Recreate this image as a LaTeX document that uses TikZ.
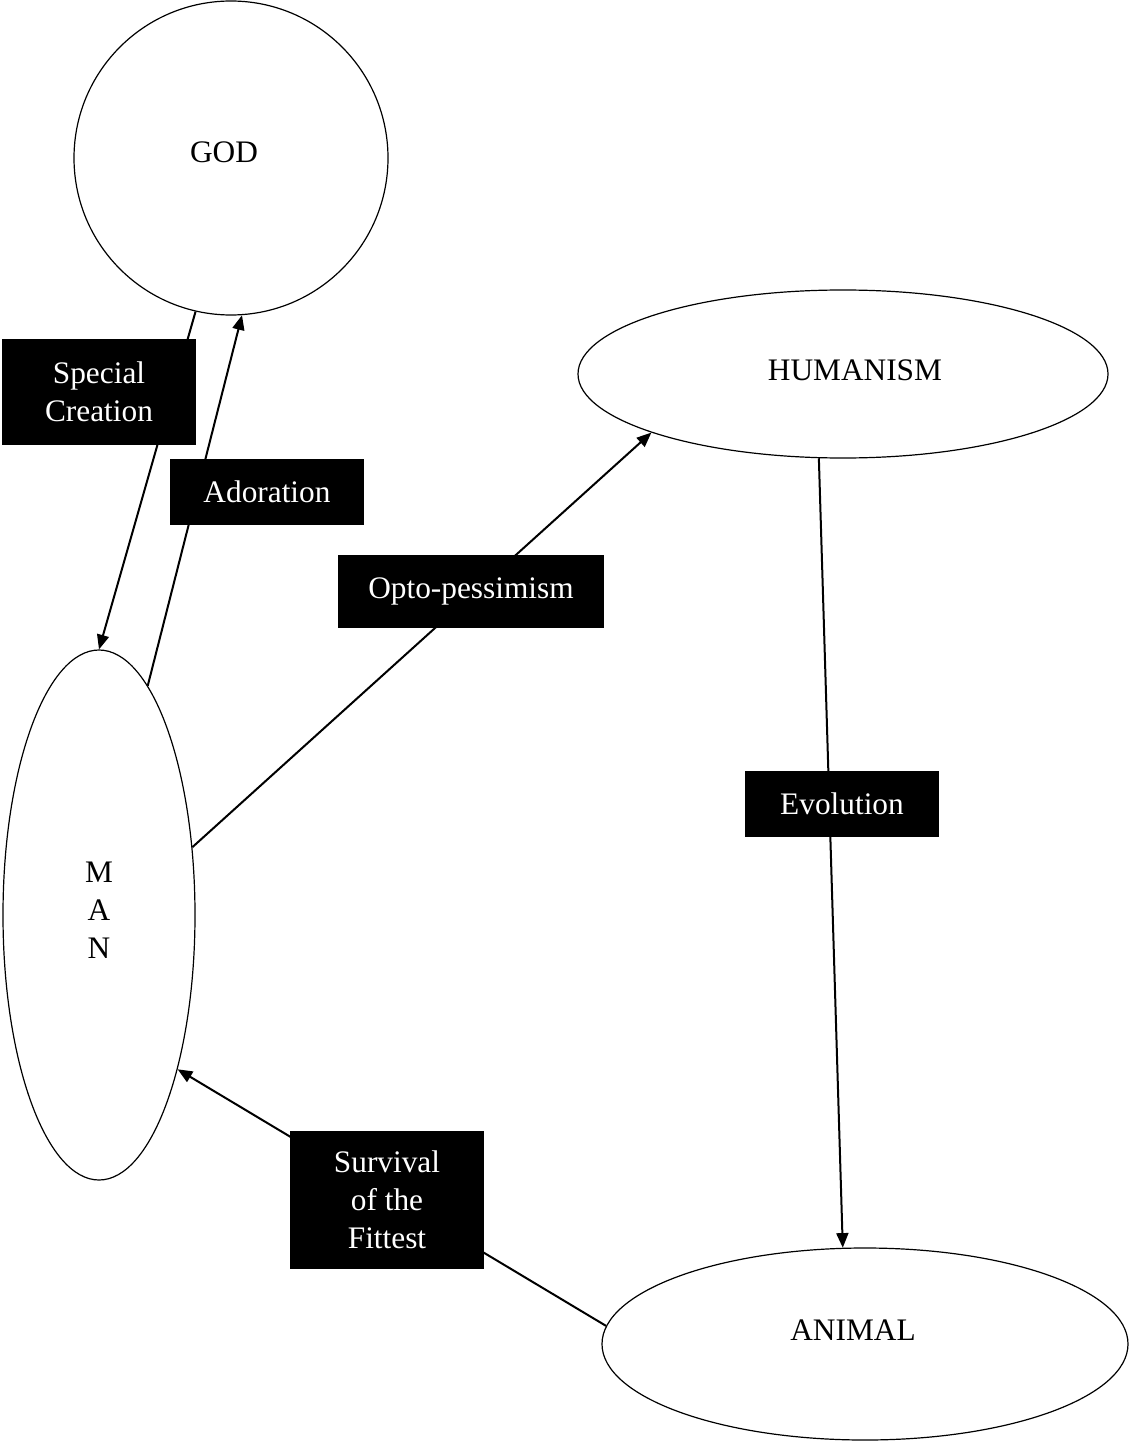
\documentclass[tikz,border=0pt]{standalone}
\usepackage{fontspec}
\setmainfont{Liberation Serif}
\usetikzlibrary {arrows.meta}
\usetikzlibrary {shapes.geometric}

\begin{document}
\begin{tikzpicture}[x=0.75pt, y=-0.75pt, >={Triangle[length=11pt, width=9pt]},
    every node/.style={font=\fontsize{23.5}{28.5}\selectfont},
    oval/.style={draw, ellipse, line width=0.9pt, inner sep=0pt},
    tag/.style={fill=black, text=white, align=center, inner sep=0pt},
    link/.style={->, line width=1.5pt}]
    \useasboundingbox (0, 0) rectangle (1133, 1444);

    \node[oval, circle, minimum size=235.5pt,
        label={[shift={(-7, -6)}]center:GOD}] (god) at (231, 158) {};
    \node[oval, minimum width=397.5pt, minimum height=126pt,
        label={[shift={(12, -4)}]center:HUMANISM}] (humanism) at (843, 374) {};
    \node[oval, minimum width=144pt, minimum height=397.5pt,
        label={[align=center, shift={(0, -5)}]center:M\\A\\N}] (man) at (99, 915) {};
    \node[oval, minimum width=394.5pt, minimum height=144pt,
        label={[shift={(-12, -14)}]center:ANIMAL}] (animal) at (865, 1344) {};

    \draw[link] (god.-103) -- (man.90);
    \draw[link] (man.78) -- (god.-86);
    \draw[link] (man.36) -- (humanism.197);
    \draw[link] (humanism.254) -- (animal.103);
    \draw[link] (animal.176) -- (man.-63);

    \node[tag, minimum width=145.5pt, minimum height=79.5pt] (creation) at (99, 392) {Special\\Creation};
    \node[tag, minimum width=145.5pt, minimum height=49.5pt] (adoration) at (267, 492) {Adoration};
    \node[tag, minimum width=199.5pt, minimum height=54.75pt] (pessimism) at (471, 591) {Opto-pessimism};
    \node[tag, minimum width=146pt, minimum height=49.5pt] (evolution) at (842, 804) {Evolution};
    \node[tag, minimum width=145.5pt, minimum height=104pt] (survival) at (387, 1200) {Survival\\of the\\Fittest};
\end{tikzpicture}
\end{document}
